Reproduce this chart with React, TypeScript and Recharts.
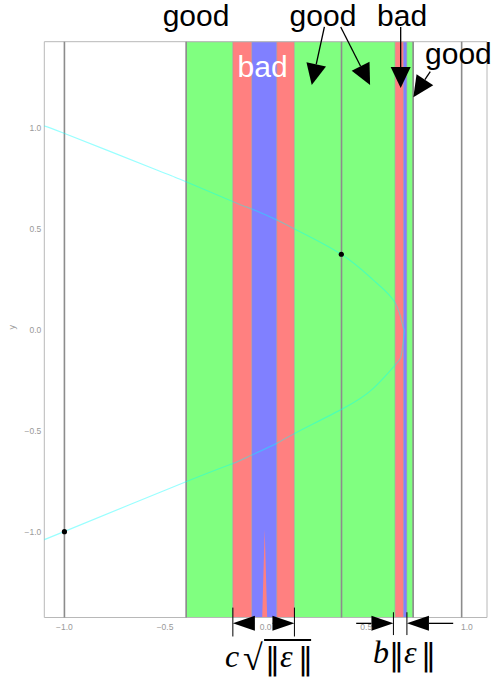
import React from 'react';
import {
  ComposedChart, XAxis, YAxis, Line, Scatter,
  ReferenceArea, ReferenceLine, ReferenceDot,
} from 'recharts';

// axes
const xDomain = [-1.1, 1.1];
const yDomain = [-1.425, 1.425];
const xTicks = [-1, -0.5, 0, 0.5, 1];
const yTicks = [-1, -0.5, 0, 0.5, 1];

// coloured regions along x
const bandStart = [-0.395, -0.163, -0.0686, 0.0557, 0.143, 0.6436, 0.685, 0.702];
const bandEnd   = [-0.163, -0.0686, 0.0557, 0.143, 0.6436, 0.685, 0.702, 0.733];
const bandKind  = ['good', 'bad', 'worse', 'bad', 'good', 'bad', 'worse', 'good'];

// thin red spike inside the central blue strip
const spikeX = [-0.017, 0.0075];
const spikeTop = -0.99;

// vertical gray lines
const grayLinesX = [-1, -0.395, 0.377, 0.733, 0.974];

// cyan curve, read along its path
const curveX = [-1.1, -1.002, -0.541, -0.425, -0.161, -0.069, 0.055, 0.146, 0.376, 0.534, 0.644, 0.683, 0.689,
  0.676, 0.644, 0.535, 0.386, 0.146, 0.055, -0.069, -0.161, -0.396, -1.002, -1.1];
const curveY = [1.004, 0.972, 0.79, 0.744, 0.633, 0.597, 0.543, 0.497, 0.373, 0.246, 0.132, 0.013, -0.01,
  -0.116, -0.175, -0.291, -0.39, -0.513, -0.563, -0.621, -0.662, -0.753, -1.0, -1.038];

// black points
const pointX = [-1, 0.376];
const pointY = [-1, 0.373];

// annotations (data coordinates)
const labelText = ['good', 'good', 'bad', 'good', 'bad'];
const labelX = [-0.346, 0.285, 0.678, 0.792, -0.015];
const labelY = [1.503, 1.503, 1.503, 1.315, 1.25];
const labelWhite = [false, false, false, false, true];
const labelStart = [false, false, false, true, false];

const topArrowFrom = [[0.292, 1.498], [0.373, 1.498], [0.671, 1.498], [0.818, 1.277]];
const topArrowTo   = [[0.229, 1.211], [0.519, 1.211], [0.671, 1.196], [0.734, 1.15]];

const dimY = -1.454;
const dimArrowFrom = [-0.053, 0.032, 0.45, 0.932];
const dimArrowTo   = [-0.163, 0.143, 0.635, 0.702];
const extX   = [-0.163, 0.143, 0.635, 0.702];
const extTop = [-1.376, -1.376, -1.399, -1.399];
const extBot = [-1.519, -1.519, -1.512, -1.512];

const mathLeft = { x: -0.2015, y: -1.67 };
const mathRight = { x: 0.534, y: -1.65 };

const bandColor: Record<string, string> = { good: '#80ff80', bad: '#ff8080', worse: '#8080ff' };

const curve = curveX.map((x, i) => ({ x, y: curveY[i] }));
const points = pointX.map((x, i) => ({ x, y: pointY[i] }));

const fmt = (v: number) => v.toFixed(1).replace('-', '\u2212');

const arrowShape = (len: number, half: number) => (p: any) => {
  const { x1, y1, x2, y2 } = p;
  const dx = x2 - x1, dy = y2 - y1;
  const d = Math.hypot(dx, dy) || 1;
  const ux = dx / d, uy = dy / d;
  const bx = x2 - ux * len, by = y2 - uy * len;
  const pts = `${x2},${y2} ${bx - uy * half},${by + ux * half} ${bx + uy * half},${by - ux * half}`;
  return (
    <g>
      <line x1={x1} y1={y1} x2={bx} y2={by} stroke="#000" strokeWidth={1.3} />
      <polygon points={pts} fill="#000" />
    </g>
  );
};

const serif = '"Liberation Serif", "DejaVu Serif", serif';
const sans = '"Liberation Sans", Arial, sans-serif';
const bars = '"DejaVu Sans", sans-serif';

// ‖ bars drawn tall, like the norm brackets in the original
const Norm = ({ x, y }: { x: number; y: number }) => (
  <text x={x} y={y + 2} fontFamily={bars} fontSize={30} fill="#000">‖</text>
);

export default function App() {
  return (
    <div style={{ position: 'absolute', left: 0, top: 0, width: 491, height: 678, background: '#fff' }}>
      <ComposedChart
        width={491}
        height={678}
        margin={{ top: 41.7, right: 4, bottom: 0, left: 0 }}
        style={{ fontFamily: sans }}
      >
        <XAxis
          type="number"
          dataKey="x"
          domain={xDomain}
          ticks={xTicks}
          allowDataOverflow
          tickFormatter={fmt}
          tick={{ fontSize: 8.5, fill: '#999' }}
          tickLine={false}
          tickSize={0}
          tickMargin={6}
          axisLine={false}
          height={60.5}
        />
        <YAxis
          type="number"
          dataKey="y"
          domain={yDomain}
          ticks={yTicks}
          allowDataOverflow
          tickFormatter={fmt}
          tick={{ fontSize: 8.5, fill: '#999' }}
          tickLine={false}
          tickSize={0}
          tickMargin={3}
          axisLine={false}
          width={44.3}
          label={{ value: 'y', angle: -90, position: 'insideLeft', offset: 12, fill: '#999', fontSize: 9 }}
        />

        {bandStart.map((x1, i) => (
          <ReferenceArea
            key={`band${i}`}
            x1={x1}
            x2={bandEnd[i]}
            y1={yDomain[0]}
            y2={yDomain[1]}
            fill={bandColor[bandKind[i]]}
            fillOpacity={1}
            stroke="#999"
            strokeOpacity={0.5}
            strokeWidth={0.8}
          />
        ))}
        <ReferenceArea
          x1={spikeX[0]}
          x2={spikeX[1]}
          y1={yDomain[0]}
          y2={spikeTop}
          shape={(p: any) => (
            <polygon
              points={`${p.x},${p.y + p.height} ${p.x + p.width / 2},${p.y} ${p.x + p.width},${p.y + p.height}`}
              fill="#ff8080"
            />
          )}
        />

        {grayLinesX.map((x, i) => (
          <ReferenceLine key={`g${i}`} x={x} stroke="#8c8c8c" strokeWidth={1.6} />
        ))}

        <Line
          data={curve}
          dataKey="y"
          type="natural"
          stroke="#00ffff"
          strokeOpacity={0.4}
          strokeWidth={1.2}
          dot={false}
          activeDot={false}
          isAnimationActive={false}
        />
        <Scatter
          data={points}
          dataKey="y"
          isAnimationActive={false}
          shape={(p: any) => <circle cx={p.cx} cy={p.cy} r={2.6} fill="#000" />}
        />

        <ReferenceArea
          x1={xDomain[0]}
          x2={xDomain[1]}
          y1={yDomain[0]}
          y2={yDomain[1]}
          fill="none"
          stroke="#b8b8b8"
          strokeWidth={1}
        />

        {topArrowFrom.map((f, i) => (
          <ReferenceLine
            key={`ta${i}`}
            ifOverflow="visible"
            segment={[{ x: f[0], y: f[1] }, { x: topArrowTo[i][0], y: topArrowTo[i][1] }]}
            shape={arrowShape(21, 10)}
          />
        ))}
        {dimArrowFrom.map((x, i) => (
          <ReferenceLine
            key={`da${i}`}
            ifOverflow="visible"
            segment={[{ x, y: dimY }, { x: dimArrowTo[i], y: dimY }]}
            shape={arrowShape(22, 7.5)}
          />
        ))}
        {extX.map((x, i) => (
          <ReferenceLine
            key={`ex${i}`}
            ifOverflow="visible"
            segment={[{ x, y: extTop[i] }, { x, y: extBot[i] }]}
            stroke="#000"
            strokeWidth={1}
          />
        ))}

        {labelText.map((t, i) => (
          <ReferenceDot
            key={`lb${i}`}
            x={labelX[i]}
            y={labelY[i]}
            ifOverflow="visible"
            shape={(p: any) => (
              <text
                x={p.cx}
                y={p.cy}
                textAnchor={labelStart[i] ? 'start' : 'middle'}
                fontFamily={sans}
                fontSize={30}
                fill={labelWhite[i] ? '#fff' : '#000'}
              >
                {t}
              </text>
            )}
          />
        ))}

        <ReferenceDot
          x={mathLeft.x}
          y={mathLeft.y}
          ifOverflow="visible"
          shape={(p: any) => (
            <g fill="#000">
              <text x={p.cx} y={p.cy} fontFamily={serif} fontSize={32} fontStyle="italic">c</text>
              <text x={p.cx + 18} y={p.cy + 3} fontFamily={serif} fontSize={36}>√</text>
              <line x1={p.cx + 39} x2={p.cx + 86} y1={p.cy - 27} y2={p.cy - 27} stroke="#000" strokeWidth={2} />
              <Norm x={p.cx + 40} y={p.cy} />
              <text x={p.cx + 55} y={p.cy} fontFamily={serif} fontSize={32} fontStyle="italic">ε</text>
              <Norm x={p.cx + 73} y={p.cy} />
            </g>
          )}
        />
        <ReferenceDot
          x={mathRight.x}
          y={mathRight.y}
          ifOverflow="visible"
          shape={(p: any) => (
            <g fill="#000">
              <text x={p.cx} y={p.cy} fontFamily={serif} fontSize={32} fontStyle="italic">b</text>
              <Norm x={p.cx + 16} y={p.cy} />
              <text x={p.cx + 31} y={p.cy} fontFamily={serif} fontSize={32} fontStyle="italic">ε</text>
              <Norm x={p.cx + 48} y={p.cy} />
            </g>
          )}
        />
      </ComposedChart>
    </div>
  );
}
